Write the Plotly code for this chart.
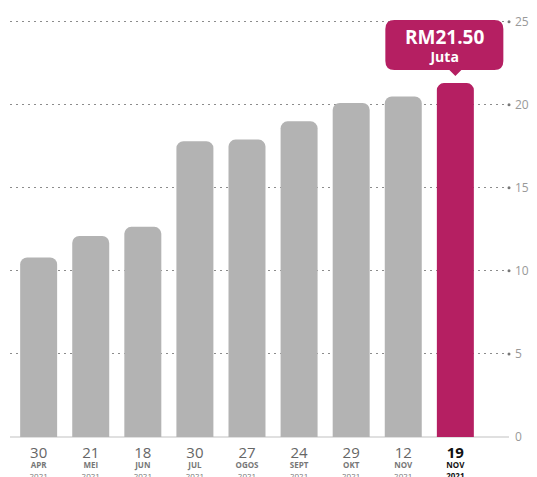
import plotly.graph_objects as go

days = ["30", "21", "18", "30", "27", "24", "29", "12", "19"]
months = ["APR", "MEI", "JUN", "JUL", "OGOS", "SEPT", "OKT", "NOV", "NOV"]
years = ["2021"] * 9
values = [10.8, 12.1, 12.65, 17.8, 17.9, 19.0, 20.1, 20.5, 21.3]
y_ticks = [0, 5, 10, 15, 20, 25]
callout_main = "RM21.50"
callout_sub = "Juta"

GRAY = "#B3B3B3"
MAGENTA = "#B51F62"
FONT = "Open Sans"

cats = [f"{d} {m} {y}" for d, m, y in zip(days, months, years)]
colors = [GRAY] * (len(values) - 1) + [MAGENTA]

ticktext = []
for i, (d, m, y) in enumerate(zip(days, months, years)):
    if i == len(days) - 1:
        ticktext.append(
            f"<span style='font-size:15px;color:#111'><b>{d}</b></span><br>"
            f"<span style='color:#111'><b>{m}</b></span><br>"
            f"<span style='color:#111'><b>{y}</b></span>")
    else:
        ticktext.append(
            f"<span style='font-size:15px;color:#666'>{d}</span><br>"
            f"<span style='color:#777'><b>{m}</b></span><br>"
            f"<span style='color:#777'>{y}</span>")

fig = go.Figure(go.Bar(x=cats, y=values, marker=dict(color=colors, line=dict(width=0)),
                       width=0.71, hoverinfo="skip"))

# the page body keeps its default 8px margin, so the figure is sized/placed to compensate
fig.update_layout(
    width=529, height=469,
    margin=dict(l=2, r=28, t=7, b=40),
    paper_bgcolor="white", plot_bgcolor="white",
    barcornerradius=7,
    showlegend=False,
    font=dict(family=FONT),
    xaxis=dict(range=[-0.55, 9.03], tickmode="array", tickvals=cats, ticktext=ticktext,
               tickfont=dict(size=8, color="#777"), showgrid=False, showline=False,
               ticks="", ticklabelstandoff=12, automargin=False),
    yaxis=dict(side="right", range=[0, 25.4], tickvals=y_ticks,
               tickfont=dict(size=12, color="#999"), showgrid=True,
               gridcolor="#8c8c8c", griddash="2px,4px", gridwidth=1,
               zeroline=True, zerolinecolor="#E0E0E0", zerolinewidth=1.5,
               ticks="", ticklabelstandoff=5, showline=False),
)

# end dots on grid lines
for v in y_ticks[1:]:
    fig.add_shape(type="circle", xref="paper", yref="y", xsizemode="pixel", ysizemode="pixel",
                  xanchor=1, yanchor=v, x0=-1.5, x1=1.5, y0=-1.5, y1=1.5,
                  fillcolor="#777", line=dict(width=0))

# callout bubble anchored on the last bar
last_x = cats[-1]
last_y = values[-1]
L, R, T, B, r = -70, 48, 63, 13, 9
path = (f"M {L + r},{T} L {R - r},{T} Q {R},{T} {R},{T - r} "
        f"L {R},{B + r} Q {R},{B} {R - r},{B} "
        f"L 6,{B} L 0,7 L -6,{B} "
        f"L {L + r},{B} Q {L},{B} {L},{B + r} "
        f"L {L},{T - r} Q {L},{T} {L + r},{T} Z")
fig.add_shape(type="path", xref="x", yref="y", xsizemode="pixel", ysizemode="pixel",
              xanchor=last_x, yanchor=last_y, path=path,
              fillcolor=MAGENTA, line=dict(width=0), layer="above")
fig.add_annotation(x=last_x, y=last_y, xref="x", yref="y", showarrow=False,
                   xshift=(L + R) / 2, yshift=(T + B) / 2,
                   text=(f"<b><span style='font-size:19px'>{callout_main}</span></b><br>"
                         f"<b>{callout_sub}</b>"),
                   font=dict(size=14, color="white", family=FONT), align="center")

fig.write_html("out.html", config={"displayModeBar": False})
